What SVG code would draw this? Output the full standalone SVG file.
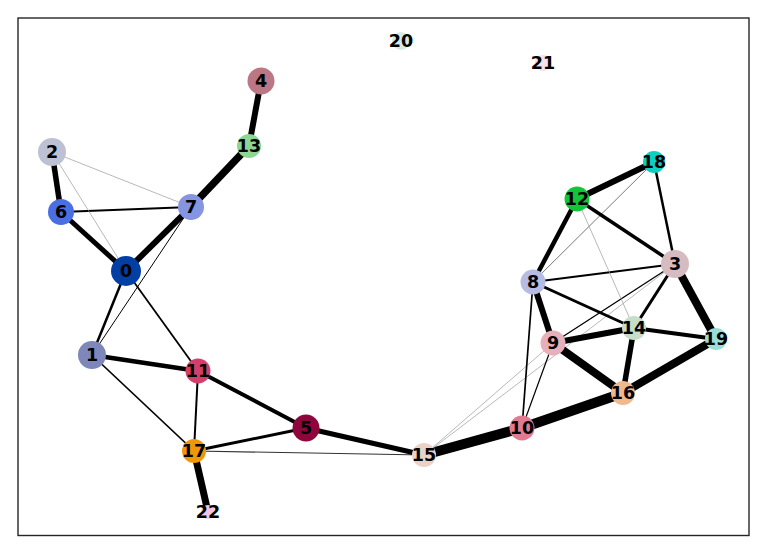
<svg xmlns="http://www.w3.org/2000/svg" width="767" height="554" viewBox="0 0 767 554">
<style>
.e{stroke:#000;stroke-linecap:butt;fill:none}
.t{stroke:#999;stroke-width:0.7}
.n text{font-family:"DejaVu Sans",sans-serif;font-weight:bold;font-size:17.5px;text-anchor:middle;fill:#000}
</style>
<rect x="0" y="0" width="767" height="554" fill="#fff"/>
<rect x="18" y="18" width="731" height="517.5" fill="none" stroke="#262626" stroke-width="1.4"/>
<g id="edges" class="e">
<line x1="261" y1="81" x2="249" y2="146" stroke-width="6"/>
<line x1="249" y1="146" x2="191" y2="207" stroke-width="7.5"/>
<line x1="52" y1="152" x2="61" y2="212" stroke-width="5.5"/>
<line x1="61" y1="212" x2="191" y2="207" stroke-width="2"/>
<line x1="61" y1="212" x2="126" y2="271" stroke-width="5"/>
<line x1="191" y1="207" x2="126" y2="271" stroke-width="6"/>
<line x1="52" y1="152" x2="191" y2="207" class="t"/>
<line x1="52" y1="152" x2="126" y2="271" class="t"/>
<line x1="191" y1="207" x2="92" y2="355" stroke-width="1"/>
<line x1="126" y1="271" x2="92" y2="355" stroke-width="2.5"/>
<line x1="126" y1="271" x2="198" y2="371" stroke-width="1.8"/>
<line x1="92" y1="355" x2="198" y2="371" stroke-width="4.5"/>
<line x1="92" y1="355" x2="194" y2="451" stroke-width="1.7"/>
<line x1="198" y1="371" x2="194" y2="451" stroke-width="2"/>
<line x1="198" y1="371" x2="306" y2="428" stroke-width="4"/>
<line x1="194" y1="451" x2="306" y2="428" stroke-width="3"/>
<line x1="194" y1="451" x2="424" y2="455" stroke-width="1.1" stroke="#333"/>
<line x1="306" y1="428" x2="424" y2="455" stroke-width="5"/>
<line x1="194" y1="451" x2="208" y2="512" stroke-width="7"/>
<line x1="424" y1="455" x2="522" y2="428" stroke-width="10"/>
<line x1="424" y1="455" x2="553" y2="343" class="t"/>
<line x1="424" y1="455" x2="675" y2="264" class="t"/>
<line x1="522" y1="428" x2="623" y2="393" stroke-width="10"/>
<line x1="522" y1="428" x2="533" y2="282" stroke-width="1.7"/>
<line x1="522" y1="428" x2="553" y2="343" stroke-width="1.2"/>
<line x1="623" y1="393" x2="716" y2="339" stroke-width="8"/>
<line x1="623" y1="393" x2="553" y2="343" stroke-width="8"/>
<line x1="623" y1="393" x2="634" y2="328" stroke-width="5.5"/>
<line x1="553" y1="343" x2="634" y2="328" stroke-width="6"/>
<line x1="553" y1="343" x2="533" y2="282" stroke-width="6"/>
<line x1="553" y1="343" x2="675" y2="264" stroke-width="1.3"/>
<line x1="533" y1="282" x2="634" y2="328" stroke-width="3"/>
<line x1="533" y1="282" x2="675" y2="264" stroke-width="2"/>
<line x1="533" y1="282" x2="577" y2="199" stroke-width="4.5"/>
<line x1="533" y1="282" x2="654" y2="162" stroke-width="0.8" stroke="#555"/>
<line x1="577" y1="199" x2="654" y2="162" stroke-width="6"/>
<line x1="577" y1="199" x2="675" y2="264" stroke-width="3.5"/>
<line x1="577" y1="199" x2="634" y2="328" class="t"/>
<line x1="654" y1="162" x2="675" y2="264" stroke-width="2.5"/>
<line x1="675" y1="264" x2="634" y2="328" stroke-width="3"/>
<line x1="675" y1="264" x2="716" y2="339" stroke-width="8"/>
<line x1="634" y1="328" x2="716" y2="339" stroke-width="4"/>
</g>
<g id="node0" class="n"><circle cx="126" cy="271" r="15" fill="#023fa5"/><text x="126" y="277.3">0</text></g>
<g id="node1" class="n"><circle cx="92" cy="355" r="14" fill="#7d87b9"/><text x="92" y="361.3">1</text></g>
<g id="node2" class="n"><circle cx="52" cy="152" r="14" fill="#bec1d4"/><text x="52" y="158.3">2</text></g>
<g id="node3" class="n"><circle cx="675" cy="264" r="14" fill="#d6bcc0"/><text x="675" y="270.3">3</text></g>
<g id="node4" class="n"><circle cx="261" cy="81" r="13.5" fill="#bb7784"/><text x="261" y="87.3">4</text></g>
<g id="node5" class="n"><circle cx="306" cy="428" r="13.5" fill="#8e063b"/><text x="306" y="434.3">5</text></g>
<g id="node6" class="n"><circle cx="61" cy="212" r="13" fill="#4a6fe3"/><text x="61" y="218.3">6</text></g>
<g id="node7" class="n"><circle cx="191" cy="207" r="13" fill="#8595e1"/><text x="191" y="213.3">7</text></g>
<g id="node8" class="n"><circle cx="533" cy="282" r="12.5" fill="#b5bbe3"/><text x="533" y="288.3">8</text></g>
<g id="node9" class="n"><circle cx="553" cy="343" r="12.5" fill="#e6afb9"/><text x="553" y="349.3">9</text></g>
<g id="node10" class="n"><circle cx="522" cy="428" r="12.5" fill="#e07b91"/><text x="522" y="434.3">10</text></g>
<g id="node11" class="n"><circle cx="198" cy="371" r="12.5" fill="#d33f6a"/><text x="198" y="377.3">11</text></g>
<g id="node12" class="n"><circle cx="577" cy="199" r="12.5" fill="#11c638"/><text x="577" y="205.3">12</text></g>
<g id="node13" class="n"><circle cx="249" cy="146" r="12" fill="#8dd593"/><text x="249" y="152.3">13</text></g>
<g id="node14" class="n"><circle cx="634" cy="328" r="12" fill="#c6dec7"/><text x="634" y="334.3">14</text></g>
<g id="node15" class="n"><circle cx="424" cy="455" r="12" fill="#ead3c6"/><text x="424" y="461.3">15</text></g>
<g id="node16" class="n"><circle cx="623" cy="393" r="12" fill="#f0b98d"/><text x="623" y="399.3">16</text></g>
<g id="node17" class="n"><circle cx="194" cy="451" r="12" fill="#ef9708"/><text x="194" y="457.3">17</text></g>
<g id="node18" class="n"><circle cx="654" cy="162" r="11" fill="#0fcfc0"/><text x="654" y="168.3">18</text></g>
<g id="node19" class="n"><circle cx="716" cy="339" r="11" fill="#9cded6"/><text x="716" y="345.3">19</text></g>
<g id="node20" class="n"><circle cx="401" cy="41" r="9" fill="#d5eae7"/><text x="401" y="47.3">20</text></g>
<g id="node21" class="n"><circle cx="543" cy="63" r="8" fill="#f3e1eb"/><text x="543" y="69.3">21</text></g>
<g id="node22" class="n"><circle cx="208" cy="512" r="7" fill="#f6c4e1"/><text x="208" y="518.3">22</text></g>
</svg>
